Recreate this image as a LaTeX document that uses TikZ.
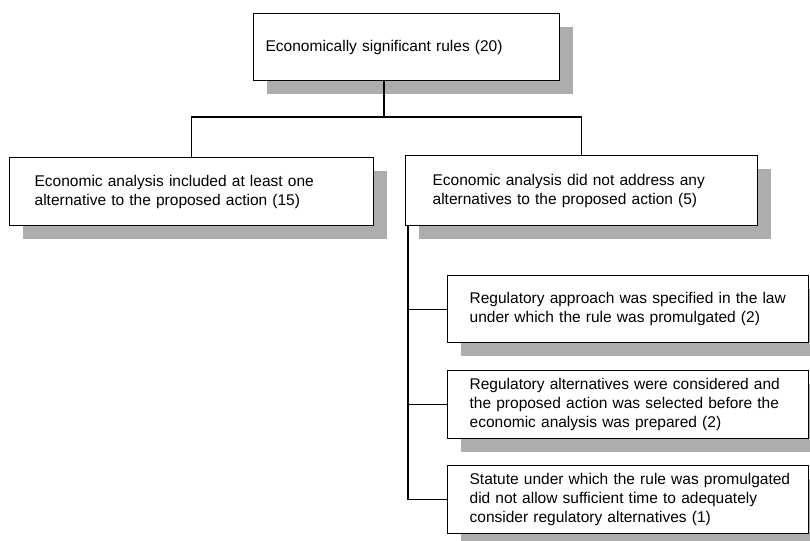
\documentclass[tikz,border=0pt]{standalone}
\usepackage{fontspec}
\setmainfont{Liberation Sans}
\usepackage{tikz}
\usetikzlibrary{shadows}
\usetikzlibrary{calc}
\tikzset{ruleBox/.style={draw, fill=white, line width=1.3pt, anchor=north west, align=left,
    font=\fontsize{15.5}{19}\selectfont,
    drop shadow={shadow xshift=13pt, shadow yshift=-13pt, fill=black!32, opacity=1}}}
\tikzset{wire/.style={line width=1.2pt}}

\begin{document}
\begin{tikzpicture}[x=1pt,y=-1pt]
  \useasboundingbox (0,0) rectangle (810,540);
  \node[ruleBox, inner xsep=12pt, text width=282pt, minimum height=67pt] (top) at (253,13)
    {Economically significant rules (20)};
  \node[ruleBox, inner xsep=25pt, text width=314pt, minimum height=68pt] (left) at (9,157)
    {Economic analysis included at least one\\alternative to the proposed action (15)};
  \node[ruleBox, inner xsep=27pt, text width=298pt, minimum height=70pt] (right) at (405,155)
    {Economic analysis did not address any\\alternatives to the proposed action (5)};
  \node[ruleBox, inner xsep=22pt, text width=317pt, minimum height=67pt] (sub1) at (447,275)
    {Regulatory approach was specified in the law\\under which the rule was promulgated (2)};
  \node[ruleBox, inner xsep=22pt, text width=317pt, minimum height=68pt] (sub2) at (447,370)
    {Regulatory alternatives were considered and\\the proposed action was selected before the\\economic analysis was prepared (2)};
  \node[ruleBox, inner xsep=22pt, text width=317pt, minimum height=68pt] (sub3) at (447,465)
    {\mbox{Statute under which the rule was promulgated}\\did not allow sufficient time to adequately\\consider regulatory alternatives (1)};
  \coordinate (split) at (384,117);
  \draw[wire] (top.south -| split) -- (split);
  \draw[wire] (left.north) |- (split) -| (right.north);
  \coordinate (trunk) at (408,0);
  \draw[wire] (right.south -| trunk) |- (sub3.west);
  \foreach \n in {sub1,sub2}
    \draw[wire] (trunk |- \n.west) -- (\n.west);
\end{tikzpicture}
\end{document}
